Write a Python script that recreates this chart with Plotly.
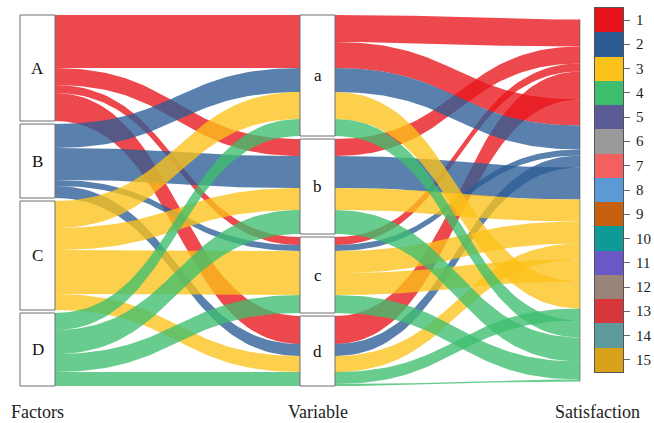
import plotly.graph_objects as go
import numpy as np

# ---------------- data ----------------
factors = ["A", "B", "C", "D"]
variables = ["a", "b", "c", "d"]
axis_labels = ["Factors", "Variable", "Satisfaction"]
satisfaction_levels = [str(i) for i in range(1, 16)]
level_colors = ["#E8141B", "#2B5C96", "#FBC21A", "#3DBE6E", "#5B5B96",
                "#9A9A9A", "#F2605F", "#5A9BD5", "#C65F0E", "#0E9B98",
                "#6A58C6", "#9A8479", "#D6373A", "#5E9A9B", "#D8A21A"]

# alluvia: one entry per (factor, variable, satisfaction) path
flow_factor = ["A", "A", "A", "A", "A", "B", "B", "B", "B",
               "C", "C", "C", "C", "C", "D", "D", "D", "D", "D"]
flow_variable = ["a", "a", "b", "c", "d", "a", "b", "c", "d",
                 "a", "b", "c", "c", "d", "a", "b", "c", "d", "d"]
flow_satisfaction = [1, 4, 2, 3, 3, 5, 7, 6, 6,
                     12, 8, 9, 11, 10, 14, 14, 15, 13, 15]
flow_value = [27, 26, 17, 8, 28, 24, 32, 6, 12,
              27, 22, 22, 22, 16, 17, 24, 18, 12, 2]

# ---------------- layout parameters ----------------
GAP = 3.0
HW = 0.0625          # half width of stratum boxes (x units)
ALPHA = 0.78
SERIF = "Liberation Serif"

n = len(flow_value)
fi = [factors.index(f) for f in flow_factor]
vi = [variables.index(v) for v in flow_variable]
total = float(sum(flow_value))
height_with_gaps = total + 3 * GAP


def stack(order_keys, group_keys, gaps=True):
    order = sorted(range(n), key=lambda i: order_keys[i])
    tops = [0.0] * n
    pos = 0.0 if gaps else (height_with_gaps - total) / 2
    prev = None
    for i in order:
        if gaps and prev is not None and group_keys[i] != prev:
            pos += GAP
        tops[i] = pos
        pos += flow_value[i]
        prev = group_keys[i]
    return tops


top0 = stack([(fi[i], vi[i], flow_satisfaction[i]) for i in range(n)], fi)
top1 = stack([(vi[i], fi[i], flow_satisfaction[i]) for i in range(n)], vi)
top2 = stack([(flow_satisfaction[i], fi[i], vi[i]) for i in range(n)], [0] * n, gaps=False)


def hex_rgba(h, a):
    h = h.lstrip("#")
    r, g, b = int(h[0:2], 16), int(h[2:4], 16), int(h[4:6], 16)
    return f"rgba({r},{g},{b},{a})"


def ribbon(xa, ya0, ya1, xb, yb0, yb1, k=0.5, m=60):
    t = np.linspace(0, 1, m)
    def bez(p0, p1, p2, p3):
        return ((1 - t) ** 3) * p0 + 3 * ((1 - t) ** 2) * t * p1 + 3 * (1 - t) * t ** 2 * p2 + t ** 3 * p3
    dx = xb - xa
    xs = bez(xa, xa + k * dx, xb - k * dx, xb)
    ytop = bez(ya0, ya0, yb0, yb0)
    ybot = bez(ya1, ya1, yb1, yb1)
    x = np.concatenate([xs, xs[::-1], xs[:1]])
    y = np.concatenate([ytop, ybot[::-1], ytop[:1]])
    return x, y


fig = go.Figure()

# segment 1: Factors -> Variable (aggregated by factor/variable pair)
pairs = []
for i in range(n):
    key = (fi[i], vi[i])
    if key not in pairs:
        pairs.append(key)
for (f, v) in pairs:
    idx = [i for i in range(n) if fi[i] == f and vi[i] == v]
    a0 = min(top0[i] for i in idx)
    a1 = max(top0[i] + flow_value[i] for i in idx)
    b0 = min(top1[i] for i in idx)
    b1 = max(top1[i] + flow_value[i] for i in idx)
    x, y = ribbon(0 + HW, a0, a1, 1 - HW, b0, b1)
    fig.add_trace(go.Scatter(x=x, y=y, mode="lines", fill="toself",
                             fillcolor=hex_rgba(level_colors[f], ALPHA),
                             line=dict(width=0), hoverinfo="skip", showlegend=False))

# segment 2: Variable -> Satisfaction
for i in range(n):
    x, y = ribbon(1 + HW, top1[i], top1[i] + flow_value[i],
                  2 - HW, top2[i], top2[i] + flow_value[i])
    fig.add_trace(go.Scatter(x=x, y=y, mode="lines", fill="toself",
                             fillcolor=hex_rgba(level_colors[fi[i]], ALPHA),
                             line=dict(width=0), hoverinfo="skip", showlegend=False))

# stratum boxes and labels
shapes = []
annotations = []
for axis_x, keys, names, tops in [(0, fi, factors, top0), (1, vi, variables, top1)]:
    for s, name in enumerate(names):
        idx = [i for i in range(n) if keys[i] == s]
        y0 = min(tops[i] for i in idx)
        y1 = max(tops[i] + flow_value[i] for i in idx)
        shapes.append(dict(type="rect", xref="x", yref="y", x0=axis_x - HW, x1=axis_x + HW,
                           y0=y0, y1=y1, fillcolor="white",
                           line=dict(color="#6e6e6e", width=1), layer="above"))
        annotations.append(dict(x=axis_x, y=(y0 + y1) / 2, xref="x", yref="y", text=name,
                                showarrow=False, font=dict(family=SERIF, size=17, color="#111")))

# axis names under each axis
for k, lab in enumerate(axis_labels):
    annotations.append(dict(x=k, y=0, xref="x", yref="paper", yanchor="top", yshift=-2,
                            text=lab, showarrow=False,
                            font=dict(family=SERIF, size=18, color="#222")))

# faint edge of the satisfaction axis
shapes.append(dict(type="line", xref="x", yref="y", x0=2 - HW, x1=2 - HW,
                   y0=min(top2), y1=max(top2[i] + flow_value[i] for i in range(n)),
                   line=dict(color="rgba(90,90,90,0.6)", width=1), layer="above"))

# satisfaction colour key
nl = len(satisfaction_levels)
cs = []
for j, c in enumerate(level_colors):
    cs.append([j / nl, c])
    cs.append([(j + 1) / nl, c])
fig.add_trace(go.Heatmap(z=[[j + 1] for j in range(nl)], x=[0], y=satisfaction_levels,
                         colorscale=cs, zmin=0.5, zmax=nl + 0.5, showscale=False,
                         xaxis="x2", yaxis="y2", hoverinfo="skip"))
for j, lev in enumerate(satisfaction_levels):
    annotations.append(dict(x=634 / 654, y=j, xref="paper", yref="y2", xanchor="left",
                            text=lev, showarrow=False,
                            font=dict(family=SERIF, size=15, color="#222")))

PLOT_H = 398.0
TOP_PAD = 15.0
fig.update_layout(
    width=654, height=423,
    margin=dict(l=0, r=0, t=0, b=25),
    paper_bgcolor="white", plot_bgcolor="white",
    font=dict(family=SERIF, color="#222"),
    shapes=shapes, annotations=annotations,
    xaxis=dict(range=[-37.5 / 280, (654 - 37.5) / 280], showticklabels=False,
               showgrid=False, zeroline=False, showline=False, ticks=""),
    yaxis=dict(range=[PLOT_H - TOP_PAD, -TOP_PAD], visible=False, showgrid=False, zeroline=False),
    xaxis2=dict(domain=[595 / 654, 623 / 654], anchor="y2", showticklabels=False, ticks="",
                showgrid=False, zeroline=False, showline=True, mirror=True,
                linecolor="#555", linewidth=1),
    yaxis2=dict(domain=[(PLOT_H - 372) / PLOT_H, (PLOT_H - 8) / PLOT_H], anchor="x2",
                type="category", range=[nl - 0.5, -0.5], side="right", ticks="outside",
                ticklen=6, tickcolor="#666", showgrid=False, zeroline=False,
                showticklabels=False,
                showline=True, mirror=True, linecolor="#555", linewidth=1),
)

fig.write_html("out.html", config={"displayModeBar": False},
               post_script="document.body.style.margin='0';document.body.style.overflow='hidden';")
